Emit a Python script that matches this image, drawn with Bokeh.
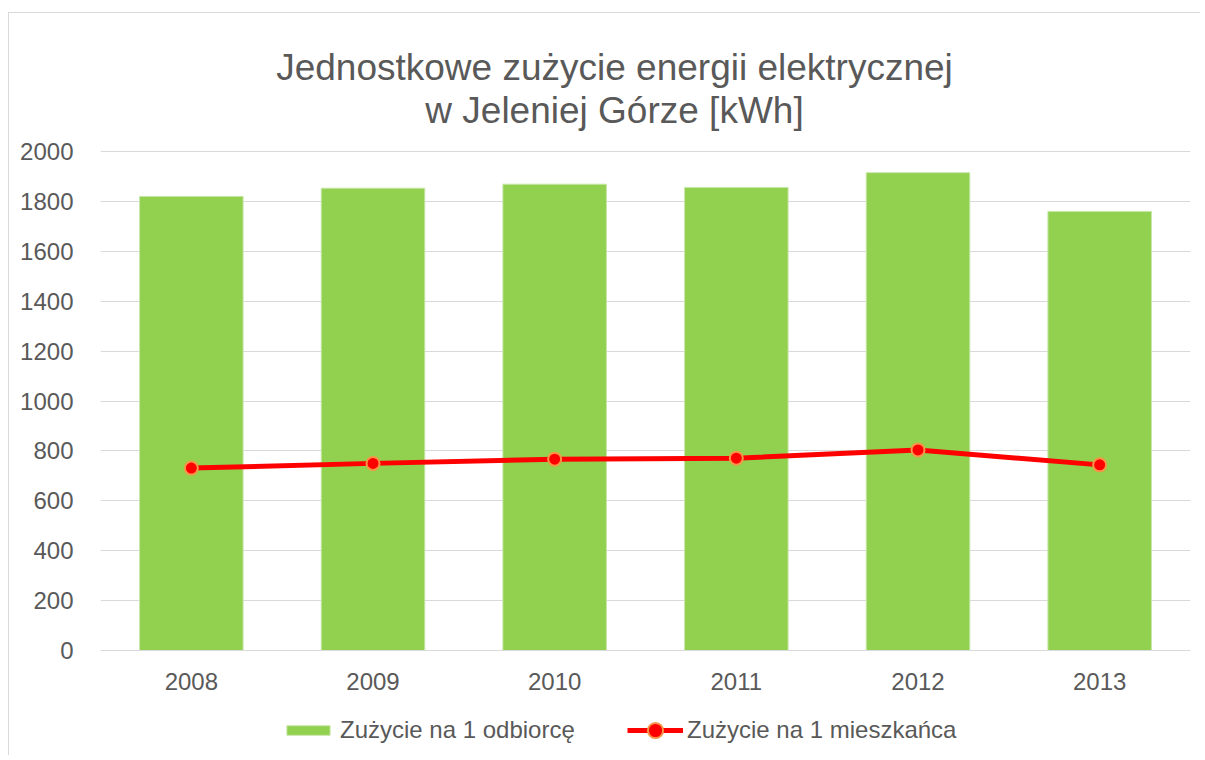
from bokeh.plotting import figure
from bokeh.models import ColumnDataSource, Legend, LegendItem, Label, Range1d, FactorRange
from bokeh.embed import file_html
from bokeh.resources import INLINE

years = ["2008", "2009", "2010", "2011", "2012", "2013"]
per_customer = [1820, 1853, 1869, 1856, 1915, 1760]
per_resident = [731, 750, 767, 771, 804, 744]
y_ticks = [0, 200, 400, 600, 800, 1000, 1200, 1400, 1600, 1800, 2000]
title_lines = ["Jednostkowe zużycie energii elektrycznej", "w Jeleniej Górze [kWh]"]
series_names = ["Zużycie na 1 odbiorcę", "Zużycie na 1 mieszkańca"]

FONT = "Liberation Sans"
TXT = "#595959"
GRID = "#D9D9D9"

W, H = 1200, 755
TOP_PX, BOT_PX = 151, 650          # pixel rows of the 2000 and 0 gridlines
K = 2000 / (BOT_PX - TOP_PX)       # data units per pixel

src = ColumnDataSource(dict(year=years, cust=per_customer, res=per_resident))

p = figure(width=W, height=H, output_backend="svg", toolbar_location=None,
           x_range=FactorRange(*years, range_padding=0),
           y_range=Range1d(-(H - BOT_PX) * K, 2000 + TOP_PX * K),
           min_border_left=100, min_border_right=10, min_border_top=0, min_border_bottom=0)
p.outline_line_color = None
p.background_fill_alpha = 0
p.border_fill_alpha = 0
# thin light-grey chart-area border (left and top edges visible in the reference)
p.styles = {"background": "linear-gradient(#D9D9D9,#D9D9D9) 8px 12px / 1px 100% no-repeat, "
                          "linear-gradient(#D9D9D9,#D9D9D9) 8px 12px / 100% 1px no-repeat, white"}

bars = p.vbar(x="year", top="cust", width=0.57, source=src, fill_color="#92D050",
              line_color="#C8E6A8", line_width=1)
ln = p.line(x="year", y="res", source=src, line_color="#FF0000", line_width=5)
mk = p.scatter(x="year", y="res", source=src, size=13, fill_color="#FF0000",
               line_color="#F79646", line_width=2)

p.yaxis.ticker = y_ticks
p.ygrid.grid_line_color = GRID
p.xgrid.grid_line_color = None
p.yaxis.axis_line_color = None
p.xaxis.axis_line_color = GRID
p.xaxis.fixed_location = 0
for ax in (p.xaxis[0], p.yaxis[0]):
    ax.major_tick_line_color = None
    ax.minor_tick_line_color = None
    ax.major_label_text_font = FONT
    ax.major_label_text_font_size = "24px"
    ax.major_label_text_color = TXT
p.yaxis.major_label_standoff = 21
p.xaxis.major_label_standoff = 16

leg1 = Legend(items=[LegendItem(label=series_names[0], renderers=[bars])],
              location=(181, 11), label_text_font=FONT, label_text_font_size="24px",
              label_text_color=TXT, glyph_width=54, glyph_height=12, label_standoff=5,
              border_line_color=None, background_fill_alpha=0, padding=0, margin=0)
leg2 = Legend(items=[LegendItem(label=series_names[1], renderers=[ln, mk])],
              location=(527, 6), label_text_font=FONT, label_text_font_size="24px",
              label_text_color=TXT, glyph_width=56, glyph_height=38, label_standoff=4,
              border_line_color=None, background_fill_alpha=0, padding=0, margin=0)
p.add_layout(leg1, "center")
p.add_layout(leg2, "center")

title_centre = (614 - 100) / ((1190 - 100) / len(years))
for txt, base_px in zip(title_lines, [67, 109.5]):
    p.add_layout(Label(x=title_centre, y=2000 + (TOP_PX - base_px) * K, text=txt,
                       text_align="center", text_baseline="alphabetic",
                       text_font=FONT, text_font_size="37px", text_color=TXT))

open("out.html", "w").write(file_html(p, INLINE))
